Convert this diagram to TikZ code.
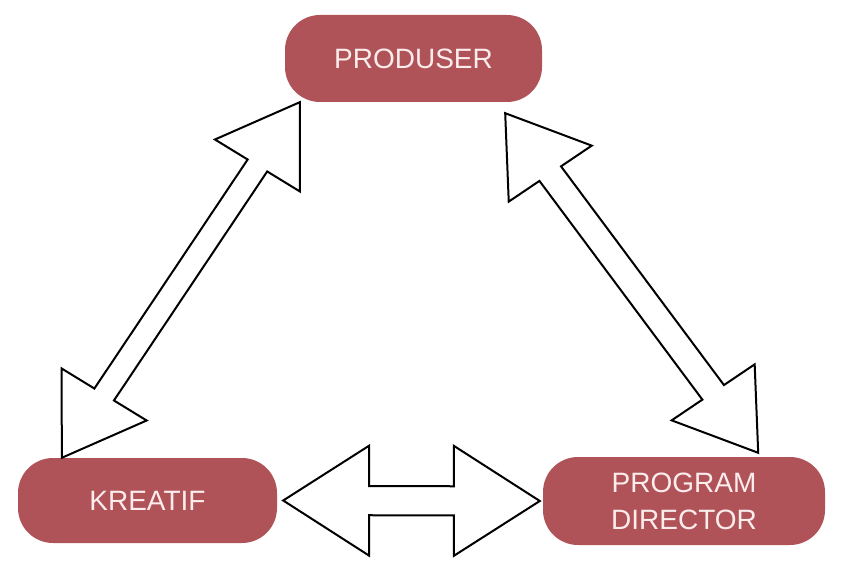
\documentclass[tikz,border=0pt]{standalone}
\usepackage{fontspec}
\setmainfont{Liberation Sans}
\usetikzlibrary{calc,positioning}
\definecolor{boxred}{RGB}{176,83,89}
\definecolor{boxtext}{RGB}{252,236,236}
\tikzset{
  role/.style={
    shape = rectangle,
    rounded corners = 35pt,
    fill = boxred,
    text = boxtext,
    font = \fontsize{28}{37}\selectfont,
    align = center,
    inner sep = 0pt
  },
  blockarr/.style={
    draw,
    line width = 2pt,
    line join = miter,
    fill = white
  },
}
% double block arrow: tip, tip, head fraction, head half width vector, shaft ratio
\newcommand{\dblarrow}[5]{%
  \draw[blockarr] (#1) -- ($(#1)!#3!(#2) + (#4)$) -- ($(#1)!#3!(#2) + #5*(#4)$)
    -- ($(#2)!#3!(#1) + #5*(#4)$) -- ($(#2)!#3!(#1) + (#4)$) -- (#2)
    -- ($(#2)!#3!(#1) - (#4)$) -- ($(#2)!#3!(#1) - #5*(#4)$)
    -- ($(#1)!#3!(#2) - #5*(#4)$) -- ($(#1)!#3!(#2) - (#4)$) -- cycle;}

\begin{document}
\begin{tikzpicture}[x=1pt,y=-1pt]
\useasboundingbox (0,0) rectangle (852,561);
\node[role, minimum width=257pt, minimum height=87pt] (produser) at (413.5,58.5) {PRODUSER};
\node[role, minimum width=259pt, minimum height=85pt] (kreatif) at (147.5,500.5) {KREATIF};
\node[role, minimum width=282pt, minimum height=88pt] (program) at (684,501) {PROGRAM\\DIRECTOR};
% arrow ends
\coordinate (pk) at ([xshift=15pt]produser.south west);
\coordinate (kp) at ([xshift=44pt]kreatif.north west);
\coordinate (pd) at ([shift={(-37,11)}]produser.south east);
\coordinate (dp) at ([shift={(-67,-4)}]program.north east);
\coordinate (kd) at ([xshift=6pt]kreatif.east);
\coordinate (dk) at ([xshift=-3pt]program.west);
\dblarrow{kp}{pk}{0.178}{42.5,26}{0.23}
\dblarrow{pd}{dp}{0.178}{41.5,-28}{0.26}
\dblarrow{kd}{dk}{0.335}{0,55}{0.265}
\end{tikzpicture}
\end{document}
